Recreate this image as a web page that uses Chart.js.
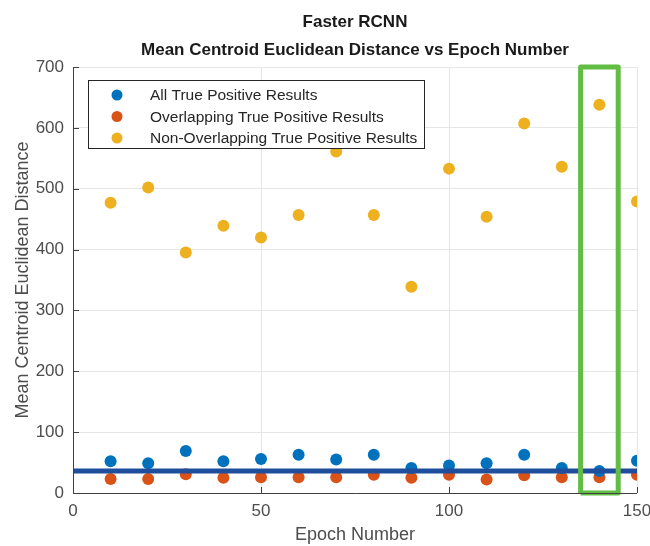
<!DOCTYPE html>
<html>
<head>
<meta charset="utf-8">
<script src="https://cdn.jsdelivr.net/npm/chart.js@4.4.0/dist/chart.umd.min.js"></script>
<style>
  html, body { margin: 0; padding: 0; background: #fff; }
  #wrap { width: 650px; height: 546px; }
</style>
</head>
<body>
<div id="wrap"><canvas id="chart"></canvas></div>
<script>
var epochs = [10, 20, 30, 40, 50, 60, 70, 80, 90, 100, 110, 120, 130, 140, 150];
var allTP = [52, 49, 69, 52, 56, 63, 55, 63, 41, 45, 49, 63, 41, 36, 53];
var overlapTP = [23, 23, 31, 25, 26, 26, 26, 30, 25, 30, 22, 29, 26, 26, 30];
var nonOverlapTP = [477, 502, 395, 439, 420, 457, 561, 457, 339, 533, 454, 607, 536, 638, 479];
var meanLineX = [0, 150];
var meanLineY = [36, 36];
var boxX = [135, 135, 145, 145, 135];
var boxY = [0, 700, 700, 0, 0];
var xTicks = [0, 50, 100, 150];

var FONT = "'Liberation Sans', Arial, sans-serif";

function pts(xs, ys) {
    return xs.map(function (x, i) { return { x: x, y: ys[i] }; });
}

// MATLAB-like inward ticks, dark left/bottom axes, title and boxed legend
var decor = {
    id: 'decor',
    afterDraw: function (chart) {
        var ctx = chart.ctx, a = chart.chartArea;
        var xs = chart.scales.x, ys = chart.scales.y;
        ctx.save();
        ctx.strokeStyle = '#404040';
        ctx.lineWidth = 1;
        ctx.beginPath();
        ctx.moveTo(a.left + 0.5, a.top);
        ctx.lineTo(a.left + 0.5, a.bottom + 0.5);
        ctx.lineTo(a.right, a.bottom + 0.5);
        xs.ticks.forEach(function (t) {
            var px = Math.round(xs.getPixelForValue(t.value)) + 0.5;
            ctx.moveTo(px, a.bottom);
            ctx.lineTo(px, a.bottom - 6);
        });
        ys.ticks.forEach(function (t) {
            var py = Math.round(ys.getPixelForValue(t.value)) + 0.5;
            ctx.moveTo(a.left, py);
            ctx.lineTo(a.left + 6, py);
        });
        ctx.stroke();

        // title
        ctx.fillStyle = '#1a1a1a';
        ctx.font = 'bold 17px ' + FONT;
        ctx.textAlign = 'center';
        ctx.textBaseline = 'middle';
        var cx = (a.left + a.right) / 2;
        ctx.fillText('Faster RCNN', cx, 22);
        ctx.fillText('Mean Centroid Euclidean Distance vs Epoch Number', cx, 50);

        // legend
        var lx = a.left + 15, ly = a.top + 13, lw = 336, lh = 68;
        ctx.fillStyle = '#fff';
        ctx.fillRect(lx, ly, lw, lh);
        ctx.strokeStyle = '#262626';
        ctx.lineWidth = 1;
        ctx.strokeRect(lx + 0.5, ly + 0.5, lw, lh);
        ctx.font = '15.5px ' + FONT;
        ctx.textAlign = 'left';
        var items = chart.data.datasets.filter(function (d) { return d.inLegend; });
        items.forEach(function (d, i) {
            var y = ly + 15 + i * 21.5;
            ctx.fillStyle = d.backgroundColor;
            ctx.beginPath();
            ctx.arc(lx + 29, y, 5.5, 0, Math.PI * 2);
            ctx.fill();
            ctx.fillStyle = '#262626';
            ctx.fillText(d.label, lx + 62, y + 1);
        });
        ctx.restore();
    }
};

new Chart('chart', {
    type: 'scatter',
    data: {
        datasets: [{
            label: 'Highlight',
            type: 'line',
            data: pts(boxX, boxY),
            borderColor: '#62bd45',
            borderWidth: 5,
            borderJoinStyle: 'round',
            pointRadius: 0,
            fill: false,
            clip: false,
            order: 0
        }, {
            label: 'Mean',
            type: 'line',
            data: pts(meanLineX, meanLineY),
            borderColor: '#1f4e9c',
            borderWidth: 5,
            pointRadius: 0,
            fill: false,
            order: 1
        }, {
            label: 'All True Positive Results',
            data: pts(epochs, allTP),
            backgroundColor: '#0072BD',
            pointRadius: 6,
            pointBorderWidth: 0,
            inLegend: true,
            order: 2
        }, {
            label: 'Overlapping True Positive Results',
            data: pts(epochs, overlapTP),
            backgroundColor: '#D95319',
            pointRadius: 6,
            pointBorderWidth: 0,
            inLegend: true,
            order: 3
        }, {
            label: 'Non-Overlapping True Positive Results',
            data: pts(epochs, nonOverlapTP),
            backgroundColor: '#EDB120',
            pointRadius: 6,
            pointBorderWidth: 0,
            inLegend: true,
            order: 4
        }]
    },
    options: {
        responsive: true,
        maintainAspectRatio: false,
        animation: false,
        layout: { padding: { top: 67, right: 0, bottom: 0, left: 0 } },
        plugins: {
            legend: { display: false },
            title: { display: false },
            tooltip: { enabled: false }
        },
        scales: {
            x: {
                type: 'linear',
                min: 0,
                max: 150,
                afterBuildTicks: function (s) { s.ticks = xTicks.map(function (v) { return { value: v }; }); },
                afterFit: function (s) { s.height = 53; s.paddingRight = 13; s.paddingLeft = 0; },
                grid: { color: '#e6e6e6', drawTicks: false },
                border: { display: false },
                ticks: { color: '#4d4d4d', font: { family: FONT, size: 17 }, padding: 8, maxRotation: 0 },
                title: { display: true, text: 'Epoch Number', color: '#4d4d4d', font: { family: FONT, size: 18 }, padding: { top: 5, bottom: 0 } }
            },
            y: {
                min: 0,
                max: 700,
                afterFit: function (s) { s.width = 73; },
                grid: { color: '#e6e6e6', drawTicks: false },
                border: { display: false },
                ticks: { stepSize: 100, color: '#4d4d4d', font: { family: FONT, size: 17 }, padding: 9 },
                title: { display: true, text: 'Mean Centroid Euclidean Distance', color: '#4d4d4d', font: { family: FONT, size: 18 }, padding: { top: 12, bottom: 0 } }
            }
        }
    },
    plugins: [decor]
});
</script>
</body>
</html>
